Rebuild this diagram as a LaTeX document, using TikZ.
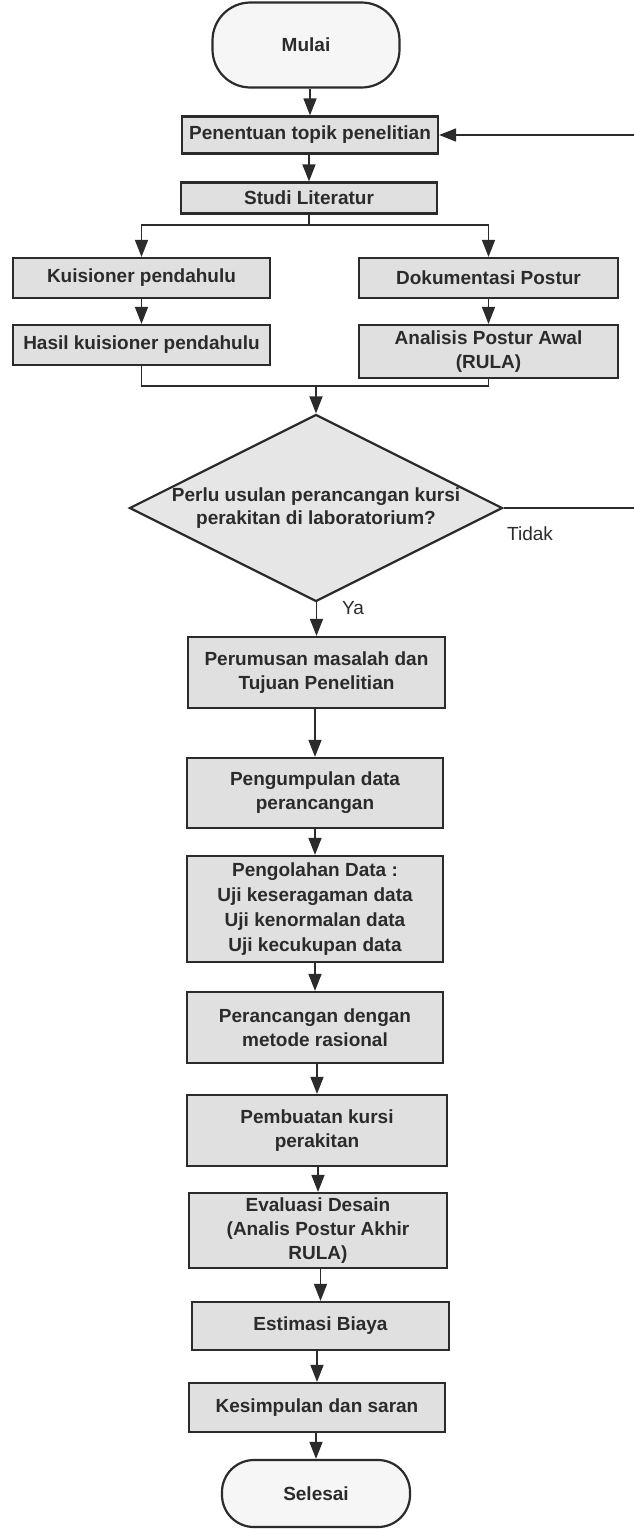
\documentclass[tikz,border=0pt]{standalone}
\usepackage{fontspec}
\setmainfont{Liberation Sans}
\usetikzlibrary{arrows.meta,shapes.geometric}
\definecolor{ink}{HTML}{2B2B2B}
\definecolor{boxfill}{HTML}{E0E0E0}
\definecolor{diafill}{HTML}{E6E6E6}
\definecolor{termfill}{HTML}{F6F6F6}
\begin{document}
\begin{tikzpicture}[x=1pt,y=-1pt,
  box/.style={draw=ink, line width=2.2pt, fill=boxfill, inner sep=0pt, align=center,
    font=\fontsize{19}{24}\selectfont\bfseries, text=ink},
  term/.style={box, fill=termfill},
  arr/.style={draw=ink, line width=1.4pt, -{Triangle[width=13pt,length=17pt]}},
  ln/.style={draw=ink, line width=1.4pt},
  lbl/.style={font=\fontsize{19}{22}\selectfont, text=ink, inner sep=0pt}]
\useasboundingbox (0,0) rectangle (634,1529);
\fill[white] (0,0) rectangle (634,1529);

% nodes
\node[term, minimum width=187pt, minimum height=85pt, rounded corners=38pt] (mulai) at (306,45) {Mulai};
\node[box, minimum width=256pt, minimum height=37pt] (pen) at (310,135) {Penentuan topik penelitian};
\node[box, minimum width=256pt, minimum height=31pt] (studi) at (309,198) {Studi Literatur};
\node[box, minimum width=257pt, minimum height=40pt] (kuis) at (141.5,278) {Kuisioner pendahulu};
\node[box, minimum width=257pt, minimum height=40pt] (hasil) at (141.5,345) {Hasil kuisioner pendahulu};
\node[box, minimum width=259pt, minimum height=40pt] (doku) at (488.5,278) {Dokumentasi Postur};
\node[box, minimum width=259pt, minimum height=53pt] (anal) at (488.5,351.5) {Analisis Postur Awal\\(RULA)};

\node[draw=ink, line width=2.2pt, fill=diafill, shape=diamond, minimum width=373pt,
      minimum height=187pt, inner sep=0pt] (dec) at (316,508) {};
\node[align=center, font=\fontsize{19}{23}\selectfont\bfseries, text=ink, inner sep=0pt]
      (dectext) at (316,508) {Perlu usulan perancangan kursi\\perakitan di laboratorium?};
\node[lbl] (tidak) at (530,534) {Tidak};
\node[lbl] (ya) at (353,608) {Ya};

\node[box, minimum width=257pt, minimum height=71pt] (perum) at (316.5,672.5) {Perumusan masalah dan\\Tujuan Penelitian};
\node[box, minimum width=256pt, minimum height=70pt] (kumpul) at (315,793) {Pengumpulan data\\perancangan};
\node[box, minimum width=256pt, minimum height=106pt, font=\fontsize{19}{25}\selectfont\bfseries] (olah) at (315,909) {Pengolahan Data :\\Uji keseragaman data\\Uji kenormalan data\\Uji kecukupan data};
\node[box, minimum width=256pt, minimum height=71pt] (rancang) at (315,1027.5) {Perancangan dengan\\metode rasional};
\node[box, minimum width=260pt, minimum height=71pt] (buat) at (317,1130.5) {Pembuatan kursi\\perakitan};
\node[box, minimum width=258pt, minimum height=75pt] (eval) at (318,1230.5) {Evaluasi Desain\\(Analis Postur Akhir\\RULA)};
\node[box, minimum width=257pt, minimum height=48pt] (estim) at (320.5,1326) {Estimasi Biaya};
\node[box, minimum width=256pt, minimum height=49pt] (simpul) at (317,1407.5) {Kesimpulan dan saran};
\node[term, minimum width=188pt, minimum height=67pt, rounded corners=32pt] (selesai) at (316,1493.5) {Selesai};

% connectors
\draw[arr] (pen.north |- mulai.south) -- (pen.north);
\draw[arr] (studi.north |- pen.south) -- (studi.north);

\coordinate (sp) at (0,225);
\draw[ln] (studi.south) -- (studi.south |- sp);
\draw[arr] (studi.south |- sp) -| (kuis.north);
\draw[arr] (studi.south |- sp) -| (doku.north);
\draw[arr] (kuis.south) -- (hasil.north);
\draw[arr] (doku.south) -- (anal.north);

\coordinate (mg) at (0,386);
\draw[ln] (hasil.south) -- (hasil.south |- mg) -- (anal.south |- mg) -- (anal.south);
\draw[arr] (dec.north |- mg) -- (dec.north);

\coordinate (fbR) at (640,508);
\coordinate (fbT) at (640,135);
\draw[arr] (dec.east) -- (fbR) -- (fbT) -- (pen.east);

\draw[arr] (dec.south) -- (perum.north |- dec.south) -- (perum.north);
\draw[arr] (kumpul.north |- perum.south) -- (kumpul.north);
\draw[arr] (olah.north |- kumpul.south) -- (olah.north);
\draw[arr] (rancang.north |- olah.south) -- (rancang.north);
\draw[arr] (buat.north |- rancang.south) -- (buat.north);
\draw[arr] (eval.north |- buat.south) -- (eval.north);
\draw[arr] (estim.north |- eval.south) -- (estim.north);
\draw[arr] (simpul.north |- estim.south) -- (simpul.north);
\draw[arr] (selesai.north |- simpul.south) -- (selesai.north);
\end{tikzpicture}
\end{document}
